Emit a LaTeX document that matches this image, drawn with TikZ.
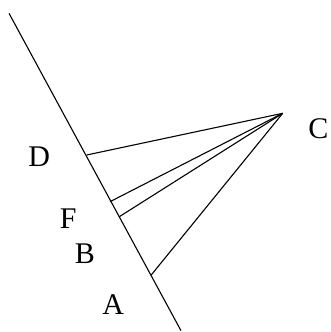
\documentclass[tikz,border=0pt]{standalone}
\usepackage{fontspec}
\setmainfont{Liberation Serif}
\begin{document}
\begin{tikzpicture}[x=1pt, y=-1pt, line width=1.1pt,
  lbl/.style={font=\fontsize{30}{34}\selectfont, inner sep=0pt}]
  \useasboundingbox (0,0) rectangle (330,332);

  % The long slanted line
  \coordinate (top) at (9,13.3);
  \coordinate (bot) at (181,330.7);
  \draw (top) -- (bot);

  % Apex and the feet on the line
  \coordinate (C) at (282.7,113.3);
  \coordinate (D) at (86.7,155);
  \coordinate (F) at (110,201.7);
  \coordinate (B) at (119.3,216.7);
  \coordinate (A) at (151.2,275);

  % Segments from the apex
  \draw (C) -- (D);
  \draw (C) -- (F);
  \draw (C) -- (B);
  \draw (C) -- (A);

  % Labels
  \node[lbl] (labelC) at (318.3,128.3) {C};
  \node[lbl] (labelD) at (39.3,156.7) {D};
  \node[lbl] (labelF) at (68.3,218.3) {F};
  \node[lbl] (labelB) at (85,254) {B};
  \node[lbl] (labelA) at (113.3,305) {A};
\end{tikzpicture}
\end{document}
